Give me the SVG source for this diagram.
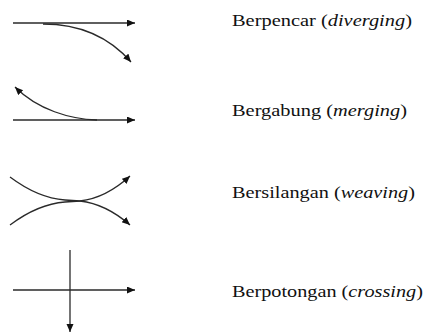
<svg xmlns="http://www.w3.org/2000/svg" width="426" height="336" viewBox="0 0 426 336">
<style>
.ln{fill:none;stroke:#2a2a2a;stroke-width:1.3}
.t{font-family:"Liberation Serif","Times New Roman",serif;font-size:17px;fill:#111}
.i{font-style:italic}
</style>
<defs>
<marker id="ah" markerUnits="userSpaceOnUse" markerWidth="10" markerHeight="8" refX="8" refY="3.5" orient="auto">
<path d="M0,0 L8,3.5 L0,7 z" fill="#111"/>
</marker>
</defs>
<rect width="426" height="336" fill="#fff"/>
<g id="connectors">
<path class="ln" d="M13,23 L135,23" marker-end="url(#ah)"/>
<path class="ln" d="M43,24 C80,24 110,38 131,62" marker-end="url(#ah)"/>
<path class="ln" d="M13,120 L135,120" marker-end="url(#ah)"/>
<path class="ln" d="M97,120 C70,119 38,110 15,87" marker-end="url(#ah)"/>
<path class="ln" d="M10,177 Q38,198 65,200 L80,201 Q106,204 130,225" marker-end="url(#ah)"/>
<path class="ln" d="M10,225 Q38,204 65,202 L80,201 Q106,198 130,176" marker-end="url(#ah)"/>
<path class="ln" d="M13,290 L135,290" marker-end="url(#ah)"/>
<path class="ln" d="M70,250 L70,332" marker-end="url(#ah)"/>
</g>
<g id="label-diverging"><text class="t" x="232" y="26" textLength="180" lengthAdjust="spacingAndGlyphs">Berpencar (<tspan class="i">diverging</tspan>)</text></g>
<g id="label-merging"><text class="t" x="232" y="116" textLength="175" lengthAdjust="spacingAndGlyphs">Bergabung (<tspan class="i">merging</tspan>)</text></g>
<g id="label-weaving"><text class="t" x="232" y="198" textLength="183" lengthAdjust="spacingAndGlyphs">Bersilangan (<tspan class="i">weaving</tspan>)</text></g>
<g id="label-crossing"><text class="t" x="232" y="297" textLength="191" lengthAdjust="spacingAndGlyphs">Berpotongan (<tspan class="i">crossing</tspan>)</text></g>
</svg>
